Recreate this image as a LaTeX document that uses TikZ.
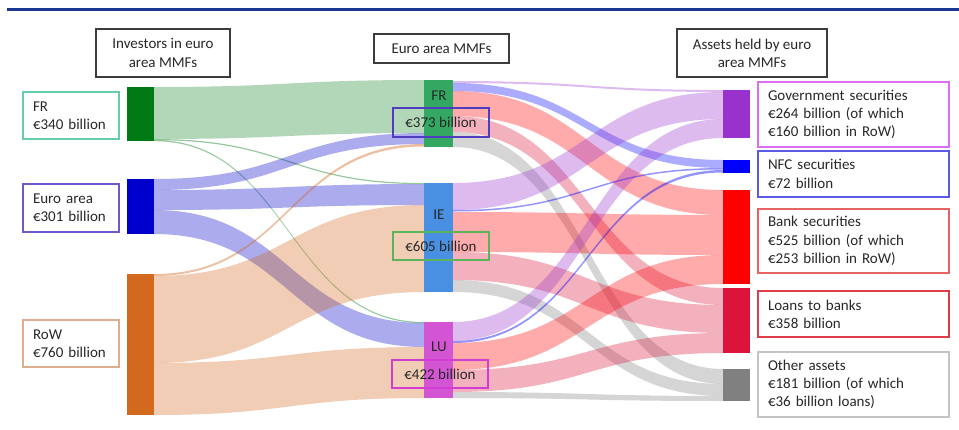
\documentclass[tikz,border=0pt]{standalone}
\usepackage{fontspec}
\setmainfont{Carlito}
\definecolor{txt}{RGB}{40,40,40}
\definecolor{hdrc}{RGB}{60,60,60}
\definecolor{topblue}{RGB}{25,55,145}
\definecolor{cInvFR}{RGB}{0,122,20}
\definecolor{cInvEA}{RGB}{0,0,205}
\definecolor{cInvRoW}{RGB}{210,105,30}
\definecolor{cMFR}{RGB}{50,168,98}
\definecolor{cMIE}{RGB}{74,144,226}
\definecolor{cMLU}{RGB}{212,85,212}
\definecolor{cGov}{RGB}{153,50,204}
\definecolor{cNFC}{RGB}{0,0,255}
\definecolor{cBank}{RGB}{255,0,0}
\definecolor{cLoan}{RGB}{220,20,60}
\definecolor{cOther}{RGB}{128,128,128}
\definecolor{bFR}{RGB}{102,205,170}
\definecolor{bEA}{RGB}{106,90,205}
\definecolor{bRoW}{RGB}{222,172,142}
\definecolor{bGov}{RGB}{220,110,240}
\definecolor{bNFC}{RGB}{90,90,230}
\definecolor{bBank}{RGB}{232,100,100}
\definecolor{bLoan}{RGB}{222,60,72}
\definecolor{bOther}{RGB}{195,195,195}
\definecolor{v373}{RGB}{80,60,190}
\definecolor{v605}{RGB}{90,180,90}
\definecolor{v422}{RGB}{210,60,210}
\newcommand\sankeyband[7]{%
  \pgfmathsetmacro\sbxm{(#2+#5)/2}%
  \fill[#1] (#2,#3) .. controls (\sbxm,#3) and (\sbxm,#6) .. (#5,#6)
    -- (#5,#7) .. controls (\sbxm,#7) and (\sbxm,#4) .. (#2,#4) -- cycle;}
\tikzset{
  bar/.style={draw=none, minimum width=27pt, inner sep=0pt, outer sep=0pt},
  lbl/.style={draw, line width=1.1pt, align=left, inner xsep=10pt, inner ysep=0pt,
    font=\fontsize{15}{18.3}\selectfont, text=txt},
  hdr/.style={draw=hdrc, line width=1.1pt, align=center, inner xsep=6pt, inner ysep=0pt,
    font=\fontsize{15}{18.3}\selectfont, text=txt},
  valbox/.style={draw, line width=1.1pt, minimum width=96pt, inner sep=0pt,
    font=\fontsize{15}{18.3}\selectfont, text=txt},
  mmfname/.style={inner sep=0pt, font=\fontsize{15}{18.3}\selectfont, text=txt},
  flowA/.style={fill opacity=0.33},
  thin/.style={fill opacity=0.42},
}
\begin{document}
\begin{tikzpicture}[x={(1pt,0pt)}, y={(0pt,-1pt)}]
\useasboundingbox[fill=white] (0,0) rectangle (959,429);
% top rule
\coordinate (tl) at (7,9);
\coordinate (tr) at (959,9);
\draw[topblue, line width=3pt] (tl) -- (tr);

% ---------- flows: investors -> MMFs ----------
\sankeyband{cInvFR, flowA, fill opacity=0.3}{154}{87}{139}{424}{80}{133}
\sankeyband{cInvFR, thin}{154}{139}{140.2}{424}{183}{184.2}
\sankeyband{cInvFR, thin}{154}{140}{141.2}{424}{322}{323.2}
\sankeyband{cInvEA, flowA}{154}{179}{190}{424}{133}{144}
\sankeyband{cInvEA, flowA}{154}{190}{210}{424}{184}{205}
\sankeyband{cInvEA, flowA}{154}{210}{234}{424}{323}{347}
\sankeyband{cInvRoW, thin}{154}{274}{276}{424}{144}{146.5}
\sankeyband{cInvRoW, flowA}{154}{276}{363}{424}{205}{292}
\sankeyband{cInvRoW, flowA}{154}{363}{415}{424}{347}{398}

% ---------- flows: MMFs -> assets ----------
% FR
\sankeyband{cGov, flowA}{453}{81}{83}{723}{90}{92}
\sankeyband{cNFC, flowA}{453}{83}{91}{723}{160}{168}
\sankeyband{cBank, flowA}{453}{91}{116}{723}{190}{215}
\sankeyband{cLoan, flowA}{453}{116}{132}{723}{288}{305}
\sankeyband{cOther, flowA}{453}{132}{147}{723}{369}{384}
% IE
\sankeyband{cGov, flowA}{453}{183}{210}{723}{92}{119}
\sankeyband{cNFC, thin}{453}{210}{211.5}{723}{168}{169.5}
\sankeyband{cBank, flowA}{453}{212}{252}{723}{215}{255}
\sankeyband{cLoan, flowA}{453}{252}{280}{723}{305}{333}
\sankeyband{cOther, flowA}{453}{280}{292}{723}{384}{396}
% LU
\sankeyband{cGov, flowA}{453}{322}{341}{723}{119}{138}
\sankeyband{cNFC, thin}{453}{341}{343}{723}{170}{172.5}
\sankeyband{cBank, flowA}{453}{343}{370}{723}{255}{284}
\sankeyband{cLoan, flowA}{453}{370}{392}{723}{333}{353}
\sankeyband{cOther, flowA}{453}{392}{398}{723}{396}{401}

% ---------- bars ----------
\node[bar, fill=cInvFR, minimum height=54pt] (invFR) at (140.5,114) {};
\node[bar, fill=cInvEA, minimum height=55pt] (invEA) at (140.5,206.5) {};
\node[bar, fill=cInvRoW, minimum height=141pt] (invRoW) at (140.5,344.5) {};

\node[bar, fill=cMFR, minimum width=29pt, minimum height=67pt] (mFR) at (438.5,113.5) {};
\node[bar, fill=cMIE, minimum width=29pt, minimum height=109pt] (mIE) at (438.5,237.5) {};
\node[bar, fill=cMLU, minimum width=29pt, minimum height=76pt] (mLU) at (438.5,360) {};

\node[bar, fill=cGov, minimum height=48pt] (aGov) at (736.5,114) {};
\node[bar, fill=cNFC, minimum height=13pt] (aNFC) at (736.5,166.5) {};
\node[bar, fill=cBank, minimum height=94pt] (aBank) at (736.5,237) {};
\node[bar, fill=cLoan, minimum height=65pt] (aLoan) at (736.5,320.5) {};
\node[bar, fill=cOther, minimum height=32pt] (aOther) at (736.5,385) {};

% ---------- headers ----------
\node[hdr, minimum width=134pt, minimum height=48pt] (h1) at (163,53) {Investors in euro\\area MMFs};
\node[hdr, minimum width=135pt, minimum height=29pt] (h2) at (441.5,48.5) {Euro area MMFs};
\node[hdr, minimum width=150pt, minimum height=48pt] (h3) at (752,53) {Assets held by euro\\area MMFs};

% ---------- left labels ----------
\node[lbl, draw=bFR, text width=76pt, minimum height=47pt] (lFR) at (71,115.5) {FR\\€340 billion};
\node[lbl, draw=bEA, text width=76pt, minimum height=48pt] (lEA) at (71,208) {Euro area\\€301 billion};
\node[lbl, draw=bRoW, text width=76pt, minimum height=47pt] (lRoW) at (71,343.5) {RoW\\€760 billion};

% ---------- middle labels ----------
\node[mmfname] (nFR) at (439,96) {FR};
\node[valbox, draw=v373, minimum height=29pt] (vFR) at (441,122.5) {€373 billion};
\node[mmfname] (nIE) at (439,215) {IE};
\node[valbox, draw=v605, minimum height=28pt] (vIE) at (441,246) {€605 billion};
\node[mmfname] (nLU) at (439,347) {LU};
\node[valbox, draw=v422, minimum height=28pt] (vLU) at (440,374) {€422 billion};

% ---------- right labels ----------
\node[lbl, draw=bGov, text width=171pt, minimum height=65pt] (rGov) at (853.5,114.5) {Government securities\\€264 billion (of which\\€160 billion in RoW)};
\node[lbl, draw=bNFC, text width=171pt, minimum height=46pt] (rNFC) at (853.5,174) {NFC securities\\€72 billion};
\node[lbl, draw=bBank, text width=171pt, minimum height=64pt] (rBank) at (853.5,241) {Bank securities\\€525 billion (of which\\€253 billion in RoW)};
\node[lbl, draw=bLoan, text width=171pt, minimum height=46pt] (rLoan) at (853.5,314) {Loans to banks\\€358 billion};
\node[lbl, draw=bOther, text width=171pt, minimum height=65pt] (rOther) at (853.5,384.5) {Other assets\\€181 billion (of which\\€36 billion loans)};
\end{tikzpicture}
\end{document}
